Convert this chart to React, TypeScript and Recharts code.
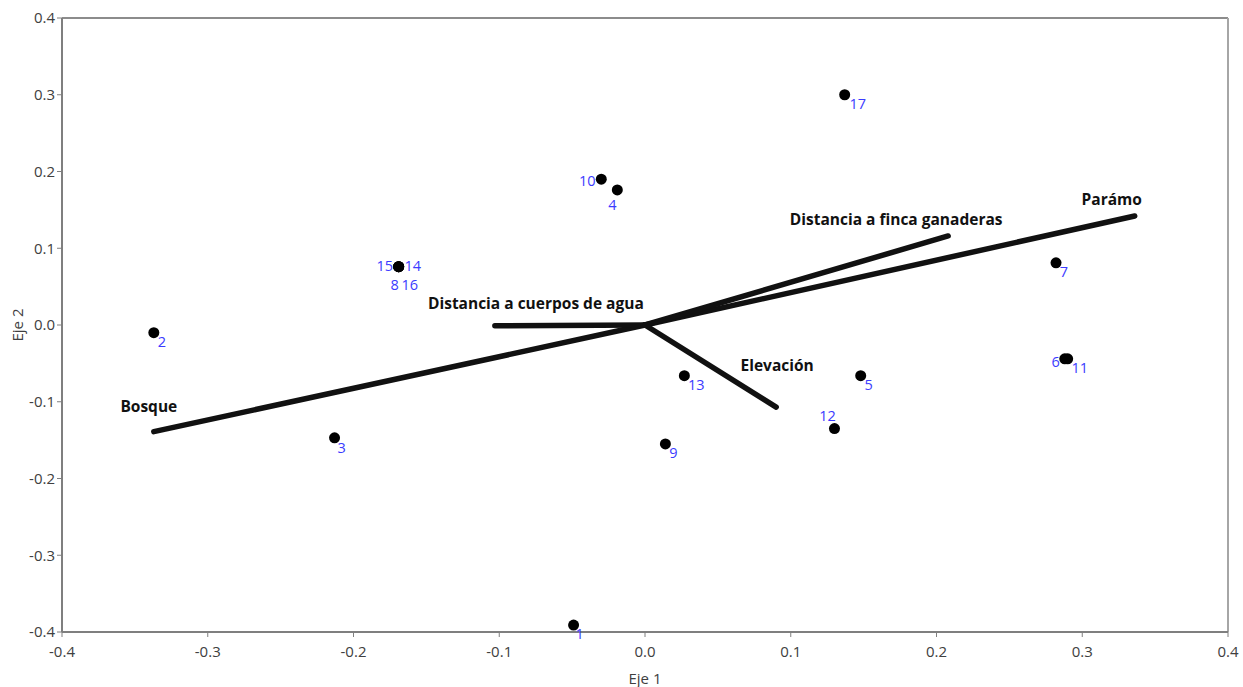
import { ReferenceLine, Scatter, ScatterChart, XAxis, YAxis } from 'recharts';

// sitios (puntos)
const siteIds = ['1', '2', '3', '4', '5', '6', '7', '8', '9', '10', '11', '12', '13', '14', '15', '16', '17'];
const siteEje1 = [-0.049, -0.337, -0.213, -0.019, 0.148, 0.288, 0.282, -0.169, 0.014, -0.03, 0.29, 0.13, 0.027, -0.169, -0.169, -0.169, 0.137];
const siteEje2 = [-0.391, -0.01, -0.147, 0.176, -0.066, -0.044, 0.081, 0.076, -0.155, 0.19, -0.044, -0.135, -0.066, 0.076, 0.076, 0.076, 0.3];

// variables (vectores)
const varNames = ['Bosque', 'Parámo', 'Distancia a finca ganaderas', 'Distancia a cuerpos de agua', 'Elevación'];
const varEje1 = [-0.337, 0.336, 0.208, -0.103, 0.09];
const varEje2 = [-0.139, 0.142, 0.116, -0.001, -0.107];

const axisTicks = [-0.4, -0.3, -0.2, -0.1, 0, 0.1, 0.2, 0.3, 0.4];

// label offsets in px (text centre relative to mark)
const siteLabelOffset: Record<string, [number, number]> = {
  '1': [6, 9], '2': [8, 9], '3': [7, 10], '4': [-5, 15], '5': [8, 9], '6': [-9, 3],
  '7': [8, 9], '8': [-4, 18], '9': [8, 9], '10': [-14, 2], '11': [12, 9], '12': [-7, -13],
  '13': [12, 9], '14': [14, -1], '15': [-14, -1], '16': [11, 18], '17': [13, 9],
};
const varLabelOffset: Record<string, [number, number]> = {
  'Bosque': [-5, -25],
  'Parámo': [-23, -16],
  'Distancia a finca ganaderas': [-52, -16],
  'Distancia a cuerpos de agua': [41, -22],
  'Elevación': [1, -41],
};

const sites = siteIds.map((id, i) => ({ id, x: siteEje1[i], y: siteEje2[i] }));
const vectors = varNames.map((name, i) => ({ name, x: varEje1[i], y: varEje2[i] }));

const tickStyle = { fill: '#404040', fontSize: 15 };

function SiteDot(props: any) {
  const { cx, cy, payload } = props;
  const [dx, dy] = siteLabelOffset[payload.id] ?? [8, 9];
  return (
    <g>
      <circle cx={cx} cy={cy} r={5.5} fill="#000" />
      <text x={cx + dx} y={cy + dy} dy={5} textAnchor="middle" fill="#3b3bff" fontSize={14.5}>
        {payload.id}
      </text>
    </g>
  );
}

function VectorLabel(props: any) {
  const { cx, cy, payload } = props;
  const [dx, dy] = varLabelOffset[payload.name] ?? [0, -15];
  return (
    <text x={cx + dx} y={cy + dy} dy={5} textAnchor="middle" fill="#111" fontSize={15.5} fontWeight="bold">
      {payload.name}
    </text>
  );
}

export default function App() {
  return (
    <div style={{ position: 'absolute', left: 0, top: 0, background: '#fff', fontFamily: '"Open Sans", sans-serif' }}>
      <ScatterChart width={1243} height={687} margin={{ top: 18, right: 15, bottom: 0, left: 0 }}>
        <XAxis
          type="number"
          dataKey="x"
          domain={[-0.4, 0.4]}
          ticks={axisTicks}
          tickFormatter={(v: number) => v.toFixed(1)}
          tick={tickStyle}
          tickSize={5}
          tickMargin={9}
          height={55}
          axisLine={{ stroke: '#7f7f7f', strokeWidth: 2 }}
          tickLine={{ stroke: '#7f7f7f' }}
          label={{ value: 'Eje 1', position: 'insideBottom', offset: 3, fill: '#404040', fontSize: 15 }}
        />
        <YAxis
          type="number"
          dataKey="y"
          domain={[-0.4, 0.4]}
          ticks={axisTicks}
          tickFormatter={(v: number) => v.toFixed(1)}
          tick={tickStyle}
          tickSize={5}
          width={62}
          axisLine={{ stroke: '#7f7f7f', strokeWidth: 2 }}
          tickLine={{ stroke: '#7f7f7f' }}
          label={{ value: 'Eje 2', angle: -90, position: 'insideLeft', offset: 18, fill: '#404040', fontSize: 15, style: { textAnchor: 'middle' } }}
        />
        <ReferenceLine y={0.4} stroke="#8c8c8c" strokeWidth={2} />
        <ReferenceLine x={0.4} stroke="#a6a6a6" strokeWidth={2} />
        {vectors.map(v => (
          <ReferenceLine
            key={v.name}
            segment={[{ x: 0, y: 0 }, { x: v.x, y: v.y }]}
            stroke="#111"
            strokeWidth={5.5}
            strokeLinecap="round"
            ifOverflow="visible"
          />
        ))}
        <Scatter data={vectors} shape={<VectorLabel />} isAnimationActive={false} />
        <Scatter data={sites} shape={<SiteDot />} isAnimationActive={false} />
      </ScatterChart>
    </div>
  );
}
